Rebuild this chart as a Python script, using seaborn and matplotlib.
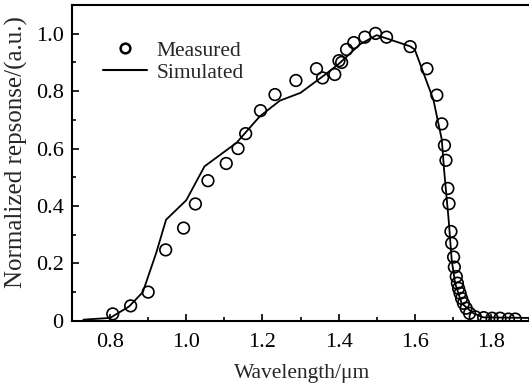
import matplotlib
matplotlib.use("Agg")
import matplotlib.pyplot as plt
import seaborn as sns
import pandas as pd
from matplotlib.lines import Line2D
from matplotlib.ticker import MultipleLocator, FuncFormatter

# Measured data (circles)
meas_x = [0.807, 0.854, 0.900, 0.946, 0.993, 1.024, 1.057, 1.105, 1.136, 1.156,
          1.195, 1.233, 1.288, 1.342, 1.358, 1.390, 1.401, 1.408, 1.421, 1.440,
          1.469, 1.497, 1.526, 1.588, 1.632, 1.658, 1.671, 1.678, 1.682, 1.687,
          1.690, 1.695, 1.697, 1.702, 1.704, 1.709, 1.712, 1.715, 1.719, 1.723,
          1.728, 1.735, 1.744, 1.759, 1.781, 1.803, 1.824, 1.846, 1.864]
meas_y = [0.024, 0.052, 0.100, 0.247, 0.323, 0.407, 0.488, 0.548, 0.600, 0.652,
          0.732, 0.788, 0.837, 0.878, 0.846, 0.858, 0.906, 0.900, 0.945, 0.969,
          0.988, 1.001, 0.988, 0.955, 0.878, 0.786, 0.686, 0.611, 0.559, 0.461,
          0.408, 0.311, 0.270, 0.222, 0.187, 0.154, 0.131, 0.113, 0.096, 0.078,
          0.061, 0.044, 0.026, 0.014, 0.011, 0.009, 0.009, 0.006, 0.006]

# Simulated data (line)
sim_x = [0.73, 0.80, 0.85, 0.886, 0.921, 0.947, 1.00, 1.048, 1.132, 1.193,
         1.246, 1.30, 1.359, 1.399, 1.456, 1.50, 1.588, 1.60, 1.649, 1.671,
         1.677, 1.689, 1.697, 1.706, 1.723, 1.754, 1.78, 1.90]
sim_y = [0.004, 0.010, 0.050, 0.100, 0.236, 0.352, 0.420, 0.538, 0.620, 0.712,
         0.767, 0.794, 0.852, 0.893, 0.963, 0.995, 0.956, 0.945, 0.770, 0.631,
         0.526, 0.352, 0.212, 0.131, 0.061, 0.026, 0.012, 0.010]

xlabel = "Wavelength/\u03bcm"
ylabel = "Normalized repsonse/(a.u.)"
legend_labels = ["Measured", "Simulated"]

sns.set_style("ticks")
plt.rcParams["font.family"] = ["Liberation Serif", "DejaVu Serif"]

df_m = pd.DataFrame({"x": meas_x, "y": meas_y})
df_s = pd.DataFrame({"x": sim_x, "y": sim_y})

fig = plt.figure(figsize=(5.29, 3.91), dpi=100)
ax = fig.add_axes([72 / 529, (391 - 320.8) / 391, 1 - 72 / 529, (320.8 - 5) / 391])

sns.lineplot(data=df_s, x="x", y="y", ax=ax, color="black", linewidth=1.3,
             sort=False, estimator=None)
sns.scatterplot(data=df_m, x="x", y="y", ax=ax, marker="o", s=70,
                facecolors="none", edgecolor="black", linewidth=1.2, zorder=3)

ax.set_xlim(0.7, 1.9)
ax.set_ylim(0, 1.1)
ax.xaxis.set_major_locator(MultipleLocator(0.2))
ax.xaxis.set_minor_locator(MultipleLocator(0.1))
ax.yaxis.set_major_locator(MultipleLocator(0.2))
ax.yaxis.set_minor_locator(MultipleLocator(0.1))
ax.yaxis.set_major_formatter(FuncFormatter(lambda v, p: "0" if abs(v) < 1e-9 else f"{v:.1f}"))
ax.xaxis.set_major_formatter(FuncFormatter(lambda v, p: f"{v:.1f}"))

ax.tick_params(which="both", direction="in", labelsize=16, width=1.2, colors="black")
ax.tick_params(which="major", length=5)
ax.tick_params(which="minor", length=3)
ax.tick_params(axis="x", which="major", pad=9)
ax.tick_params(axis="y", which="major", pad=6)
ax.tick_params(axis="x", which="both", top=False)
ax.tick_params(axis="y", which="both", right=False)

for side in ["left", "bottom", "top"]:
    ax.spines[side].set_linewidth(1.5)
    ax.spines[side].set_color("black")
ax.spines["right"].set_visible(False)

ax.set_xlabel(xlabel, fontsize=15.5)
ax.set_ylabel(ylabel, fontsize=18)
ax.xaxis.set_label_coords(0.503, -0.138)
ax.yaxis.set_label_coords(-0.097, 0.534)

handles = [
    Line2D([], [], marker="o", linestyle="none", markerfacecolor="none",
           markeredgecolor="black", markeredgewidth=1.8, markersize=7),
    Line2D([], [], color="black", linewidth=1.5),
]
ax.legend(handles, legend_labels, loc="upper left", bbox_to_anchor=(0.05, 0.915),
          frameon=False, fontsize=15.5, handlelength=2.0, handletextpad=0.45,
          labelspacing=0.1, borderaxespad=0)

fig.savefig("out.png", dpi=100)
